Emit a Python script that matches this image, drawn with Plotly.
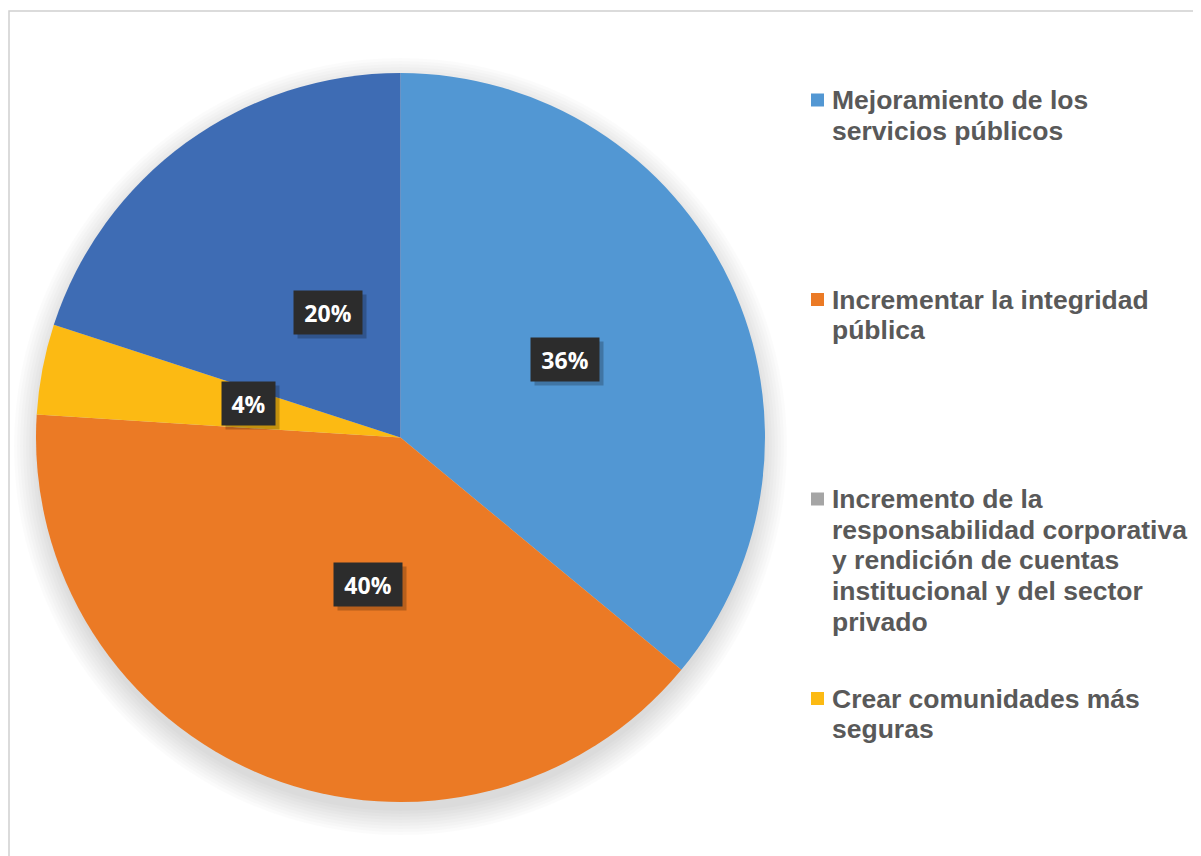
import math
import plotly.graph_objects as go

# ---------------- data ----------------
categories = [
    "Mejoramiento de los<br>servicios públicos",
    "Incrementar la integridad<br>pública",
    "Incremento de la<br>responsabilidad corporativa<br>y rendición de cuentas<br>institucional y del sector<br>privado",
    "Crear comunidades más<br>seguras",
    "",
]
values = [36, 40, 0, 4, 20]
value_labels = ["36%", "40%", "0%", "4%", "20%"]
colors = ["#5297D3", "#EB7A25", "#A5A5A5", "#FCBA13", "#3E6CB4"]
legend_count = 4  # entries shown in the legend

# ---------------- layout constants (pixels, page coordinates) ----------------
PAGE_OFF = 8           # default body margin of the html page
W, H = 1201 - PAGE_OFF, 856 - PAGE_OFF
CX, CY, R = 400.5, 437.5, 364.5
LABEL_FRAC = 0.5


def px(x):
    return (x - PAGE_OFF) / W


def py(y):
    return 1 - (y - PAGE_OFF) / H


fig = go.Figure()
fig.add_trace(go.Pie(
    labels=[c.replace("<br>", " ") or "Serie 5" for c in categories],
    values=values,
    sort=False,
    direction="clockwise",
    rotation=0,
    marker=dict(colors=colors, line=dict(width=0)),
    textinfo="none",
    hoverinfo="label+percent",
    showlegend=False,
    domain=dict(x=[px(CX - R), px(CX + R)], y=[py(CY + R), py(CY - R)]),
))

shapes = []
# soft shadow under the pie
for k in range(0, 27, 3):
    off = 9
    shapes.append(dict(
        type="circle", xref="paper", yref="paper", layer="below",
        x0=px(CX - R - k + 2), x1=px(CX + R + k - 2),
        y0=py(CY + off + R + k), y1=py(CY + off - R - k),
        fillcolor="rgba(0,0,0,0.016)", line=dict(width=0),
    ))
# chart-area frame
shapes.append(dict(
    type="rect", xref="paper", yref="paper", layer="below",
    x0=px(9), x1=1.05, y0=-0.05, y1=py(11),
    line=dict(color="#d0d0d0", width=1.5), fillcolor="rgba(0,0,0,0)",
))

annotations = []
# data labels computed from the values
total = sum(values)
cum = 0
for v, lab in zip(values, value_labels):
    if v > 0:
        mid = (cum + v / 2) / total * 2 * math.pi
        lx = CX + LABEL_FRAC * R * math.sin(mid)
        ly = CY - LABEL_FRAC * R * math.cos(mid)
        bw = 21 + 15 * len(lab)
        # shadow
        annotations.append(dict(
            xref="paper", yref="paper", x=px(lx), y=py(ly),
            xshift=4, yshift=-4, showarrow=False, text=" ",
            width=bw, height=41, bgcolor="rgba(0,0,0,0.22)",
            font=dict(size=21, family="Open Sans"),
        ))
        annotations.append(dict(
            xref="paper", yref="paper", x=px(lx), y=py(ly),
            showarrow=False, text="<b>%s</b>" % lab,
            width=bw, height=41, bgcolor="#2c2c2c",
            font=dict(size=23, family="Open Sans", color="white"),
        ))
    cum += v

# legend drawn manually (first four entries)
LEG_X_SQ, LEG_X_TXT = 817.5, 830
LEG_Y0, LEG_STEP, LINE_H = 100, 199.5, 30.7
for i in range(legend_count):
    ey = LEG_Y0 + i * LEG_STEP
    shapes.append(dict(
        type="rect", xref="paper", yref="paper",
        x0=px(LEG_X_SQ - 6.5), x1=px(LEG_X_SQ + 6.5),
        y0=py(ey + 6.5), y1=py(ey - 6.5),
        fillcolor=colors[i], line=dict(width=0),
    ))
    for j, line in enumerate(categories[i].split("<br>")):
        annotations.append(dict(
            xref="paper", yref="paper", x=px(LEG_X_TXT), y=py(ey + j * LINE_H),
            xanchor="left", yanchor="middle", showarrow=False,
            text="<b>%s</b>" % line,
            font=dict(size=26.5, family="Liberation Sans, Arial", color="#595959"),
        ))

fig.update_layout(
    width=W, height=H,
    margin=dict(l=0, r=0, t=0, b=0),
    paper_bgcolor="white", plot_bgcolor="white",
    shapes=shapes, annotations=annotations,
)

fig.write_html("out.html")
